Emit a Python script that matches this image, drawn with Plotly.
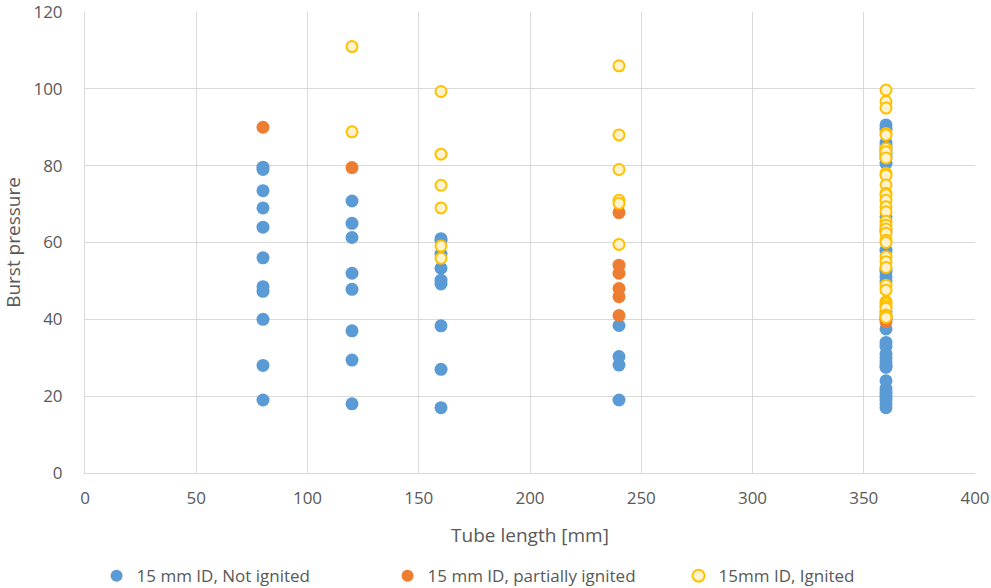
import plotly.graph_objects as go

# Data: tube length [mm] and burst pressure
not_ign_x = [80]*11 + [120]*8 + [160]*9 + [240]*4 + [360]*32
not_ign_y = [19, 28, 40, 47.3, 48.5, 56, 64, 69, 73.5, 79, 79.6,
             18, 29.4, 37, 47.8, 52, 61.3, 65, 70.8,
             17, 27, 38.3, 49.2, 50.2, 53.3, 57, 60.5, 61,
             19, 28.1, 30.3, 38.4,
             90.6, 89.5, 86, 85, 84, 83, 82, 80.6, 66.7, 63, 58, 53, 52.4, 51, 50, 42,
             40, 37.5, 34, 33, 31, 30, 29, 28, 27.5, 24, 22, 21, 20, 19, 18, 17]

part_ign_x = [80, 120, 240, 240, 240, 240, 240, 240, 360, 360]
part_ign_y = [90, 79.5, 67.8, 54.1, 52, 48, 45.9, 41, 40.5, 39.4]

ign_x = [120]*2 + [160]*6 + [240]*6 + [360]*34
ign_y = [111, 88.8,
         99.3, 83, 74.9, 69, 59.1, 55.9,
         106, 88, 79, 71, 70.2, 59.5,
         99.7, 96.7, 95, 88.4, 88, 84.5, 83.6, 82, 78, 77.5, 75, 72.8, 72.4, 71,
         69.3, 68, 65.5, 64.5, 63.5, 62.4, 60.6, 60, 56.3, 55, 53.5, 48.9, 47.6,
         44.6, 44.1, 43.5, 42.9, 41.1, 40.8, 40.5]

x_ticks = [0, 50, 100, 150, 200, 250, 300, 350, 400]
y_ticks = [0, 20, 40, 60, 80, 100, 120]

fig = go.Figure()
fig.add_trace(go.Scatter(x=not_ign_x, y=not_ign_y, mode="markers",
                         name="15 mm ID, Not ignited",
                         marker=dict(size=13, color="#5B9BD5", line=dict(width=0))))
fig.add_trace(go.Scatter(x=part_ign_x, y=part_ign_y, mode="markers",
                         name="15 mm ID, partially ignited",
                         marker=dict(size=13, color="#ED7D31", line=dict(width=0))))
fig.add_trace(go.Scatter(x=ign_x, y=ign_y, mode="markers",
                         name="15mm ID, Ignited",
                         marker=dict(size=11, color="#FFF2CC",
                                     line=dict(width=2, color="#FFC000"))))

font_fam = "Open Sans, Lato, sans-serif"
fig.update_layout(
    width=991, height=588,
    margin=dict(l=85, r=16, t=12, b=115, autoexpand=False),
    paper_bgcolor="white", plot_bgcolor="white",
    font=dict(family=font_fam, color="#595959", size=17),
    showlegend=True,
    legend=dict(orientation="h", x=0.013, xanchor="left", y=-0.185, yanchor="top",
                font=dict(size=17, color="#595959"),
                entrywidth=246, entrywidthmode="pixels", itemsizing="constant",
                tracegroupgap=0),
    xaxis=dict(range=[0, 400], tickmode="array", tickvals=x_ticks,
               showgrid=True, gridcolor="#D9D9D9",
               gridwidth=1, zeroline=False, showline=True, linecolor="#D9D9D9",
               ticks="", tickfont=dict(size=17, color="#595959"), ticklabelstandoff=10,
               automargin=False, ticklabeloverflow="allow",
               title=dict(text="Tube length [mm]", font=dict(size=19, color="#595959"),
                          standoff=20)),
    yaxis=dict(range=[0, 120], tickmode="array", tickvals=y_ticks,
               showgrid=True, gridcolor="#D9D9D9",
               gridwidth=1, zeroline=False, showline=True, linecolor="#D9D9D9",
               ticks="", tickfont=dict(size=17, color="#595959"), ticklabelstandoff=18,
               automargin=False, ticklabeloverflow="allow",
               title=dict(text="Burst pressure", font=dict(size=19, color="#595959"),
                          standoff=14)),
)
fig.write_html("out.html")
